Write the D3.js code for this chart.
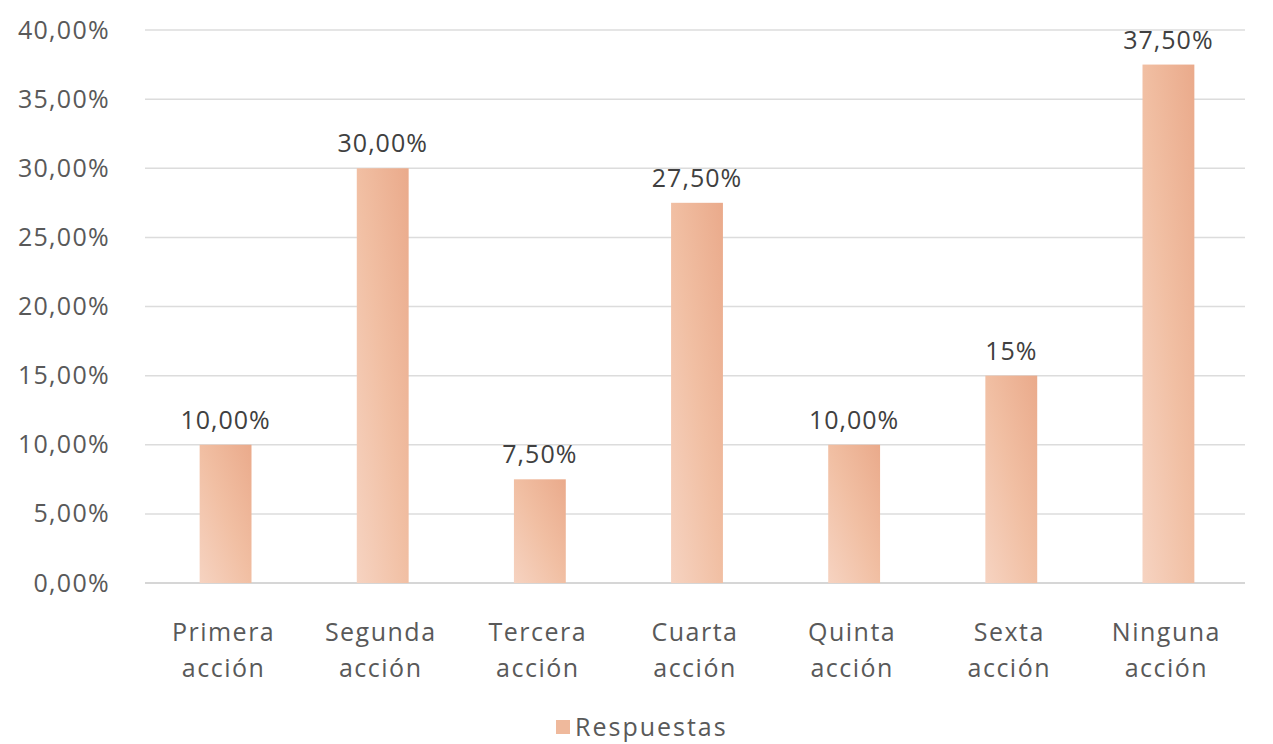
<!DOCTYPE html>
<html>
<head>
<meta charset="utf-8">
<script src="https://cdn.jsdelivr.net/npm/d3@7"></script>
<style>
  body { margin: 0; background: #fff; }
  svg text { font-family: "Open Sans", Lato, sans-serif; }
</style>
</head>
<body>
<svg id="chart" width="1273" height="744"></svg>
<script>
var categories = [["Primera", "acción"], ["Segunda", "acción"], ["Tercera", "acción"],
                  ["Cuarta", "acción"], ["Quinta", "acción"], ["Sexta", "acción"], ["Ninguna", "acción"]];
var values = [10, 30, 7.5, 27.5, 10, 15, 37.5];
var valueLabels = ["10,00%", "30,00%", "7,50%", "27,50%", "10,00%", "15%", "37,50%"];
var yTicks = [0, 5, 10, 15, 20, 25, 30, 35, 40];
var seriesName = "Respuestas";

var svg = d3.select("#chart");
var plotLeft = 145, plotRight = 1245, plotTop = 30, plotBottom = 583;
var fontSize = 25;

var x = d3.scaleBand()
    .domain(categories.map(function(d, i) { return i; }))
    .range([plotLeft, plotRight])
    .paddingInner(0.67)
    .paddingOuter(0.335);

var y = d3.scaleLinear().domain([0, 40]).range([plotBottom, plotTop]);

var defs = svg.append("defs");
var grad = defs.append("linearGradient")
    .attr("id", "barGrad")
    .attr("x1", "0").attr("y1", "1").attr("x2", "1").attr("y2", "0");
grad.append("stop").attr("offset", "0%").attr("stop-color", "#f6d3c1");
grad.append("stop").attr("offset", "50%").attr("stop-color", "#f1bfa3");
grad.append("stop").attr("offset", "100%").attr("stop-color", "#eaaa8b");

// grid
svg.append("g")
  .selectAll("line")
  .data(yTicks)
  .enter().append("line")
    .attr("x1", plotLeft).attr("x2", plotRight)
    .attr("y1", function(d) { return y(d); })
    .attr("y2", function(d) { return y(d); })
    .attr("stroke", function(d) { return d === 0 ? "#c8c8c8" : "#dcdcdc"; })
    .attr("stroke-width", 1.5);

// y axis labels
var yAxis = d3.axisLeft(y)
    .tickValues(yTicks)
    .tickSize(0)
    .tickPadding(35)
    .tickFormat(function(d) { return d3.format(".2f")(d).replace(".", ",") + "%"; });
var ya = svg.append("g").attr("transform", "translate(" + plotLeft + ",0)").call(yAxis);
ya.select(".domain").remove();
ya.selectAll("text")
    .attr("font-size", fontSize)
    .attr("fill", "#595959")
    .attr("letter-spacing", 1.3)
    .style("font-family", "'Open Sans', Lato, sans-serif");

// bars
svg.append("g")
  .selectAll("rect")
  .data(values)
  .enter().append("rect")
    .attr("x", function(d, i) { return x(i) + 2; })
    .attr("y", function(d) { return y(d); })
    .attr("width", x.bandwidth())
    .attr("height", function(d) { return y(0) - y(d); })
    .attr("fill", "url(#barGrad)");

// value labels
svg.append("g")
  .selectAll("text")
  .data(values)
  .enter().append("text")
    .attr("x", function(d, i) { return x(i) + x.bandwidth() / 2 + 2; })
    .attr("y", function(d) { return y(d) - 16; })
    .attr("text-anchor", "middle")
    .attr("font-size", fontSize)
    .attr("fill", "#404040")
    .attr("letter-spacing", 1)
    .text(function(d, i) { return valueLabels[i]; });

// category labels
var cat = svg.append("g")
  .selectAll("text")
  .data(categories)
  .enter().append("text")
    .attr("x", function(d, i) { return x(i) + x.bandwidth() / 2; })
    .attr("y", 641)
    .attr("text-anchor", "middle")
    .attr("font-size", fontSize)
    .attr("fill", "#595959")
    .attr("letter-spacing", 1.5);
cat.append("tspan")
    .attr("x", function(d, i) { return x(i) + x.bandwidth() / 2; })
    .text(function(d) { return d[0]; });
cat.append("tspan")
    .attr("x", function(d, i) { return x(i) + x.bandwidth() / 2; })
    .attr("dy", 36)
    .text(function(d) { return d[1]; });

// legend
var legend = svg.append("g").attr("transform", "translate(556,720)");
legend.append("rect")
    .attr("width", 14).attr("height", 14)
    .attr("fill", "#efb99c");
legend.append("text")
    .attr("x", 19).attr("y", 16)
    .attr("font-size", 25)
    .attr("fill", "#595959")
    .attr("letter-spacing", 2)
    .text(seriesName);
</script>
</body>
</html>
